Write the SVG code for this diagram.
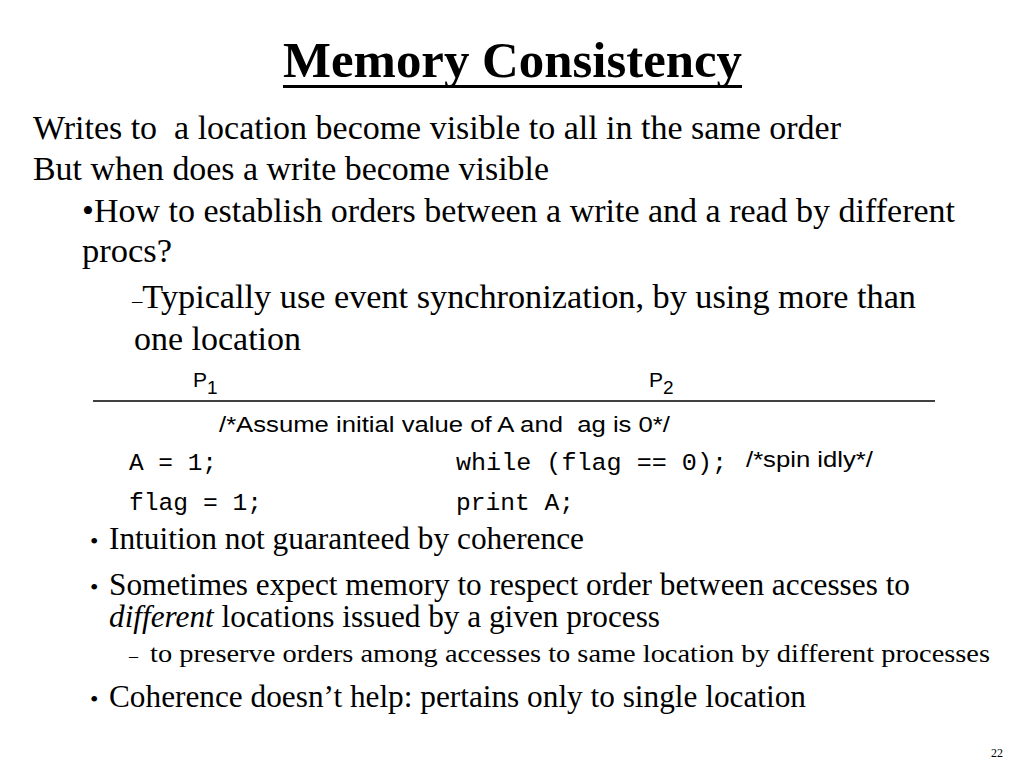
<svg xmlns="http://www.w3.org/2000/svg" width="1024" height="768" viewBox="0 0 1024 768">
<style>
text{white-space:pre}
.s{font-family:"Liberation Serif","Times New Roman",serif;fill:#000}
.a{font-family:"Liberation Sans",Arial,sans-serif;fill:#000}
.m{font-family:"Liberation Mono","Courier New",monospace;fill:#000;font-size:24.5px}
.b{font-family:"Liberation Serif","Times New Roman",serif;fill:#000;font-size:24px}
</style>
<rect width="1024" height="768" fill="#fff"/>
<g id="title">
<text class="s" x="283" y="77" font-size="50" font-weight="bold" textLength="459" lengthAdjust="spacingAndGlyphs">Memory Consistency</text>
<rect x="283" y="85" width="459" height="3" fill="#000"/>
</g>
<g id="intro">
<text class="s" x="33" y="139" font-size="33" textLength="808" lengthAdjust="spacingAndGlyphs">Writes to  a location become visible to all in the same order</text>
<text class="s" x="33" y="180" font-size="33" textLength="516" lengthAdjust="spacingAndGlyphs">But when does a write become visible</text>
<text class="s" x="82" y="222" font-size="33" textLength="873" lengthAdjust="spacingAndGlyphs">•How to establish orders between a write and a read by different</text>
<text class="s" x="82" y="262" font-size="33" textLength="90" lengthAdjust="spacingAndGlyphs">procs?</text>
<text class="s" x="132" y="308" font-size="33" textLength="784" lengthAdjust="spacingAndGlyphs"><tspan font-size="20">–</tspan>Typically use event synchronization, by using more than</text>
<text class="s" x="134" y="350" font-size="33" textLength="167" lengthAdjust="spacingAndGlyphs">one location</text>
</g>
<g id="code">
<text class="a" x="193" y="387" font-size="21">P<tspan font-size="19" dy="7">1</tspan></text>
<text class="a" x="649" y="387" font-size="21">P<tspan font-size="19" dy="7">2</tspan></text>
<line x1="93" y1="401" x2="935" y2="401" stroke="#000" stroke-width="1.5"/>
<text class="a" x="219" y="432" font-size="22" textLength="451" lengthAdjust="spacingAndGlyphs">/*Assume initial value of A and  ag is 0*/</text>
<text class="m" x="129" y="470" textLength="88" lengthAdjust="spacingAndGlyphs">A = 1;</text>
<text class="m" x="456" y="470" textLength="271" lengthAdjust="spacingAndGlyphs">while (flag == 0);</text>
<text class="a" x="746" y="467" font-size="22" textLength="127" lengthAdjust="spacingAndGlyphs">/*spin idly*/</text>
<text class="m" x="129" y="510" textLength="133" lengthAdjust="spacingAndGlyphs">flag = 1;</text>
<text class="m" x="456" y="510" textLength="118" lengthAdjust="spacingAndGlyphs">print A;</text>
</g>
<g id="bullets">
<text class="b" x="90" y="549">•</text>
<text class="s" x="109" y="549" font-size="31" textLength="475" lengthAdjust="spacingAndGlyphs">Intuition not guaranteed by coherence</text>
<text class="b" x="90" y="595">•</text>
<text class="s" x="109" y="595" font-size="31" textLength="801" lengthAdjust="spacingAndGlyphs">Sometimes expect memory to respect order between accesses to</text>
<text class="s" x="109" y="627" font-size="31" textLength="551" lengthAdjust="spacingAndGlyphs"><tspan font-style="italic">different</tspan> locations issued by a given process</text>
<text class="s" x="129" y="662" font-size="18">–</text>
<text class="s" x="150" y="662" font-size="26" textLength="840" lengthAdjust="spacingAndGlyphs">to preserve orders among accesses to same location by different processes</text>
<text class="b" x="90" y="707">•</text>
<text class="s" x="109" y="707" font-size="31" textLength="697" lengthAdjust="spacingAndGlyphs">Coherence doesn’t help: pertains only to single location</text>
</g>
<text class="s" x="991" y="757" font-size="12">22</text>
</svg>
